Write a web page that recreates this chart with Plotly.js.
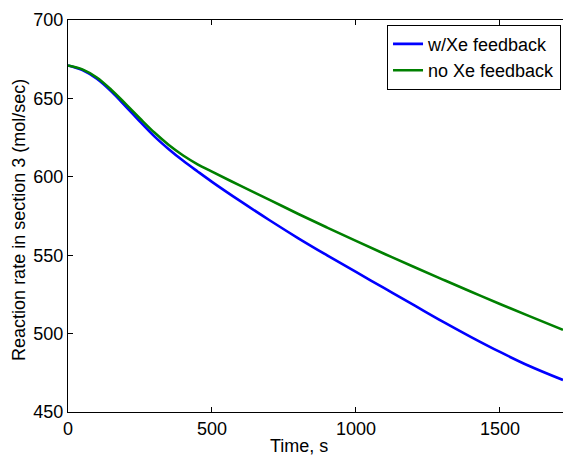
<!DOCTYPE html>
<html>
<head>
<meta charset="utf-8">
<script src="https://cdn.plot.ly/plotly-3.0.1.min.js"></script>
<style>
html,body{margin:0;padding:0;overflow:hidden;background:#fff;}
#chart{width:563px;height:455px;}
</style>
</head>
<body>
<div id="chart"></div>
<script>
// Data
var timeS = [0, 50, 100, 150, 200, 250, 300, 350, 400, 450, 500, 600, 700, 800, 900, 1000, 1100, 1200, 1300, 1400, 1500, 1600, 1719];
var rateWithXe = [671, 668, 662.5, 654.5, 645, 635.2, 625.8, 617.6, 610.2, 603.4, 596.8, 584.3, 572.3, 560.8, 549.9, 539.3, 528.8, 518.3, 507.8, 497.8, 488.3, 479.5, 470.4];
var rateNoXe   = [671, 668.5, 663.3, 655.5, 646.5, 637.2, 628.2, 620.3, 613.6, 608, 603.3, 594.2, 585.3, 576.3, 567.6, 559.1, 550.8, 542.6, 534.6, 526.7, 518.9, 511.3, 502.4];

var seriesNames = ["w/Xe feedback", "no Xe feedback"];
var xTicks = [0, 500, 1000, 1500];
var yTicks = [450, 500, 550, 600, 650, 700];

var font = "Liberation Sans, Arial, Helvetica, sans-serif";

var traces = [
  {x: timeS, y: rateWithXe, name: seriesNames[0], type: "scatter", mode: "lines",
   line: {color: "#0000ff", width: 2.6, shape: "spline", smoothing: 1}},
  {x: timeS, y: rateNoXe, name: seriesNames[1], type: "scatter", mode: "lines",
   line: {color: "#008000", width: 2.6, shape: "spline", smoothing: 1}}
];

var layout = {
  width: 563, height: 455,
  margin: {l: 68, r: 0, t: 20, b: 43},
  paper_bgcolor: "#fff", plot_bgcolor: "#fff",
  font: {family: font, size: 18, color: "#000"},
  showlegend: true,
  legend: {x: 0.996, y: 0.988, xanchor: "right", yanchor: "top",
           bgcolor: "#fff", bordercolor: "#000", borderwidth: 1,
           font: {family: font, size: 18, color: "#000"}},
  xaxis: {range: [0, 1719], tickvals: xTicks, ticktext: xTicks.map(String),
          ticks: "inside", ticklen: 5, tickcolor: "#000", tickwidth: 1,
          showline: true, linecolor: "#000", linewidth: 1, mirror: "ticks",
          showgrid: false, zeroline: false, tickfont: {size: 18}},
  yaxis: {range: [450, 700], tickvals: yTicks, ticktext: yTicks.map(String),
          ticks: "inside", ticklen: 5, tickcolor: "#000", tickwidth: 1,
          showline: true, linecolor: "#000", linewidth: 1, mirror: false,
          showgrid: false, zeroline: false, tickfont: {size: 18}},
  annotations: [
    {text: "Time, s", xref: "paper", yref: "paper", x: 0.4667, y: -0.087,
     xanchor: "center", yanchor: "middle", showarrow: false, font: {size: 18}},
    {text: "Reaction rate in section 3 (mol/sec)", xref: "paper", yref: "paper",
     x: -0.099, y: 0.49, xanchor: "center", yanchor: "middle", textangle: -90,
     showarrow: false, font: {size: 18}}
  ]
};

Plotly.newPlot("chart", traces, layout, {displayModeBar: false, staticPlot: true});
</script>
</body>
</html>
